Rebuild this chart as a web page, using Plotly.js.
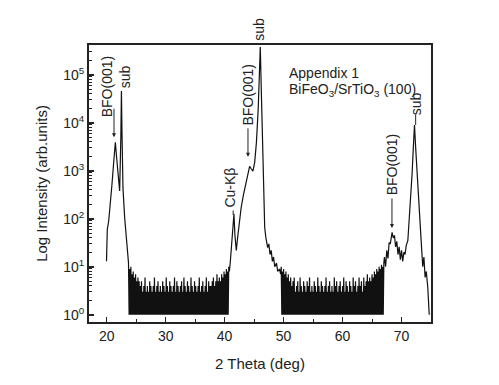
<!DOCTYPE html>
<html>
<head>
<meta charset="utf-8">
<script src="https://cdn.plot.ly/plotly-3.0.1.min.js"></script>
<style>
  html, body { margin: 0; padding: 0; background: #fff; }
  #chart { width: 499px; height: 385px; }
</style>
</head>
<body>
<div id="chart"></div>
<script>
// --- Data ---
// BFO(001) + STO(100) region
const peakA2Theta = [19.97, 20.0, 20.1, 20.34, 20.5, 20.9, 21.2, 21.47, 21.7, 21.9, 22.2, 22.4, 22.5, 22.6, 22.76, 23.05, 23.3, 23.5];
const peakACounts = [13, 35, 60, 90, 170, 530, 1580, 3900, 1800, 850, 380, 5000, 46000, 6000, 440, 105, 50, 25];

// background between 23.7 and 40.7 deg, 0.1 deg steps
const noise1Start = 23.7;
const noise1Counts = [
  12, 1, 9, 1, 10, 1, 7, 1, 8, 1, 6, 1, 7, 1, 5, 1, 6, 1, 5, 1,
  4, 1, 5, 1, 3, 1, 4, 1, 6, 1, 3, 1, 4, 1, 3, 1, 5, 1, 4, 1,
  3, 1, 4, 1, 6, 1, 3, 1, 4, 1, 5, 1, 3, 1, 4, 1, 3, 1, 5, 1,
  4, 1, 3, 1, 6, 1, 4, 1, 3, 1, 5, 1, 4, 1, 3, 1, 4, 1, 6, 1,
  3, 1, 5, 1, 4, 1, 3, 1, 4, 1, 5, 1, 3, 1, 6, 1, 4, 1, 3, 1,
  5, 1, 4, 1, 3, 1, 6, 1, 4, 1, 3, 1, 5, 1, 4, 1, 3, 1, 4, 1,
  6, 1, 3, 1, 4, 1, 5, 1, 3, 1, 4, 1, 6, 1, 3, 1, 5, 1, 4, 1,
  4, 1, 5, 1, 6, 1, 4, 1, 5, 1, 7, 1, 5, 1, 6, 1, 5, 1, 7, 1,
  6, 1, 8, 1, 7, 1, 9, 1, 8, 1, 10
];

// Cu-Kbeta, BFO(001) shoulder, STO(200)
const peakB2Theta = [40.8, 40.95, 41.2, 41.4, 41.58, 41.75, 41.98, 42.2, 42.5, 42.8, 43.2, 43.7, 44.0, 44.24, 44.5, 44.8, 45.1, 45.4, 45.7, 45.9, 46.05, 46.2, 46.4, 46.6, 46.8, 47.0, 47.3, 47.5, 47.7, 47.9, 48.1, 48.3, 48.5, 48.8, 49.0, 49.3, 49.5];
const peakBCounts = [8, 12, 30, 70, 126, 45, 22, 40, 90, 170, 320, 600, 950, 1240, 1100, 980, 1500, 4000, 20000, 80000, 380000, 60000, 4000, 500, 65, 40, 25, 30, 18, 22, 13, 16, 10, 12, 8, 9, 7];

// background between 49.6 and 67.0 deg, 0.1 deg steps
const noise2Start = 49.6;
const noise2Counts = [
  10, 1, 8, 1, 9, 1, 7, 1, 8, 1, 6, 1, 7, 1, 5, 1, 6, 1, 4, 1,
  5, 1, 6, 1, 3, 1, 4, 1, 5, 1, 3, 1, 6, 1, 4, 1, 3, 1, 5, 1,
  4, 1, 3, 1, 5, 1, 4, 1, 6, 1, 3, 1, 4, 1, 3, 1, 5, 1, 4, 1,
  3, 1, 6, 1, 4, 1, 3, 1, 5, 1, 4, 1, 3, 1, 4, 1, 6, 1, 3, 1,
  4, 1, 5, 1, 3, 1, 4, 1, 3, 1, 6, 1, 4, 1, 5, 1, 3, 1, 4, 1,
  5, 1, 3, 1, 4, 1, 6, 1, 3, 1, 5, 1, 4, 1, 3, 1, 5, 1, 4, 1,
  3, 1, 6, 1, 4, 1, 5, 1, 3, 1, 4, 1, 6, 1, 4, 1, 5, 1, 3, 1,
  6, 1, 4, 1, 5, 1, 7, 1, 5, 1, 6, 1, 5, 1, 7, 1, 6, 1, 8, 1,
  7, 1, 9, 1, 8, 1, 10, 1, 9, 1, 11, 1, 10, 1, 12
];
const noiseStep = 0.1;

// BFO(002) + STO(300)
const peakC2Theta = [67.1, 67.3, 67.5, 67.7, 67.9, 68.1, 68.4, 68.6, 68.8, 69.0, 69.2, 69.4, 69.6, 69.8, 70.0, 70.2, 70.4, 70.6, 70.8, 71.07, 71.3, 71.6, 71.8, 72.0, 72.2, 72.4, 72.6, 72.77, 73.05, 73.3, 73.6, 73.8, 74.0, 74.2, 74.45, 74.6, 74.7];
const peakCCounts = [16, 10, 22, 15, 32, 30, 52, 40, 45, 26, 34, 18, 26, 14, 22, 13, 20, 18, 28, 35, 90, 235, 900, 3000, 9000, 3000, 1000, 530, 107, 40, 10, 16, 6, 8, 3.8, 2, 1];

// axis ticks
const xTicks = [20, 30, 40, 50, 60, 70];
const xMinorTicks = [25, 35, 45, 55, 65, 75];
const yTickVals = [1, 10, 100, 1000, 10000, 100000];
const yTickText = ['10<sup>0</sup>', '10<sup>1</sup>', '10<sup>2</sup>', '10<sup>3</sup>', '10<sup>4</sup>', '10<sup>5</sup>'];

// --- Build the scan ---
function gridX(start, n) {
    const xs = [];
    for (let i = 0; i < n; i++) xs.push(+(start + i * noiseStep).toFixed(2));
    return xs;
}

const scanX = [].concat(peakA2Theta, gridX(noise1Start, noise1Counts.length), peakB2Theta, gridX(noise2Start, noise2Counts.length), peakC2Theta);
const scanY = [].concat(peakACounts, noise1Counts, peakBCounts, noise2Counts, peakCCounts);

// minor log ticks 2..9 in every decade
const yMinorTicks = [];
[1, 10, 100, 1000, 10000, 100000].forEach(d => {
    for (let k = 2; k <= 9; k++) yMinorTicks.push(d * k);
});

const FONT = 'Liberation Sans, Arial, sans-serif';
const INK = '#222';
const log = v => Math.log10(v);

function label(text, x, y, extra) {
    return Object.assign({
        text: text, x: x, y: y, xref: 'x', yref: 'y',
        showarrow: false, textangle: -90,
        xanchor: 'center', yanchor: 'middle',
        font: { family: FONT, size: 14, color: INK }
    }, extra || {});
}

function arrow(x, y, ay, head) {
    return {
        text: '', x: x, y: y, xref: 'x', yref: 'y',
        showarrow: true, ax: 0, ay: ay,
        arrowhead: head, arrowsize: 0.8, arrowwidth: 1, arrowcolor: INK
    };
}

const annotations = [
    label('BFO(001)', 20.05, 4.76),
    arrow(21.24, 3.70, -30, 2),
    label('sub', 23.1, 4.97),
    label('sub', 45.8, 1.058, { yref: 'paper' }),
    label('BFO(001)', 43.9, 4.58),
    arrow(43.96, 3.29, -30, 2),
    label('Cu-K\u03b2', 41.0, 2.64),
    arrow(41.45, 2.08, -6, 0),
    label('BFO(001)', 68.35, 3.13),
    arrow(68.38, 1.81, -31, 2),
    label('sub', 72.4, 4.4),
    arrow(72.4, log(9000), -12, 0),
    {
        text: 'Appendix 1', xref: 'paper', yref: 'paper', x: 0.579, y: 0.899,
        xanchor: 'left', yanchor: 'middle', showarrow: false,
        font: { family: FONT, size: 14, color: INK }
    },
    {
        text: 'BiFeO<sub>3</sub>/SrTiO<sub>3</sub> (100)', xref: 'paper', yref: 'paper', x: 0.579, y: 0.838,
        xanchor: 'left', yanchor: 'middle', showarrow: false,
        font: { family: FONT, size: 14, color: INK }
    }
];

const data = [{
    x: scanX,
    y: scanY,
    type: 'scatter',
    mode: 'lines',
    line: { color: '#111', width: 1.2 },
    hoverinfo: 'skip'
}];

const layout = {
    width: 499,
    height: 385,
    paper_bgcolor: '#fff',
    plot_bgcolor: '#fff',
    margin: { l: 89, r: 68, t: 45, b: 63 },
    showlegend: false,
    font: { family: FONT, color: INK, size: 14 },
    xaxis: {
        range: [17, 75],
        tickmode: 'array',
        tickvals: xTicks,
        ticks: 'inside', ticklen: 5, tickwidth: 1.5, tickcolor: INK,
        minor: { tickmode: 'array', tickvals: xMinorTicks, ticks: 'inside', ticklen: 3, tickwidth: 1, tickcolor: INK },
        showline: true, linewidth: 2, linecolor: INK, mirror: true,
        showgrid: false, zeroline: false,
        tickfont: { family: FONT, size: 14, color: INK },
        title: { text: '2 Theta (deg)', font: { family: FONT, size: 15, color: INK }, standoff: 16 }
    },
    yaxis: {
        type: 'log',
        range: [-0.15, 5.62],
        tickmode: 'array',
        tickvals: yTickVals,
        ticktext: yTickText,
        ticks: 'inside', ticklen: 5, tickwidth: 1.5, tickcolor: INK,
        minor: { tickmode: 'array', tickvals: yMinorTicks, ticks: 'inside', ticklen: 3, tickwidth: 1, tickcolor: INK },
        showline: true, linewidth: 2, linecolor: INK, mirror: true,
        showgrid: false, zeroline: false,
        tickfont: { family: FONT, size: 14, color: INK },
        title: { text: 'Log Intensity (arb.units)', font: { family: FONT, size: 15, color: INK }, standoff: 12 }
    },
    annotations: annotations
};

Plotly.newPlot('chart', data, layout, { displayModeBar: false, staticPlot: true });
</script>
</body>
</html>
